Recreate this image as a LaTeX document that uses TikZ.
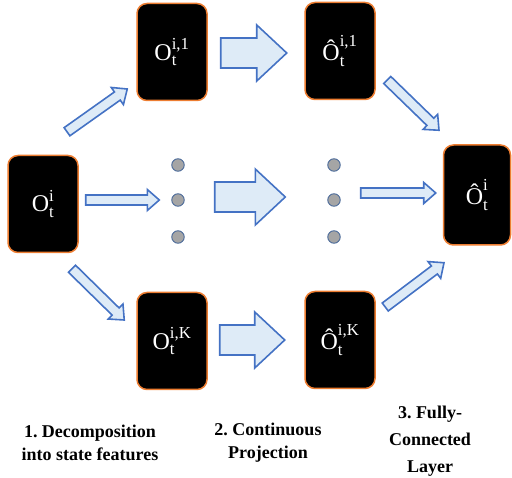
\documentclass[tikz,border=0pt]{standalone}
\usepackage{fontspec}
\usepackage{amsmath}
\setmainfont{Liberation Serif}
\usetikzlibrary{calc}

\definecolor{boxorange}{HTML}{ED7D31}
\definecolor{arrowblue}{HTML}{4472C4}
\definecolor{arrowfill}{HTML}{DEEBF7}
\definecolor{dotgray}{HTML}{A5A5A5}
\definecolor{dotline}{HTML}{4A6A9A}

\tikzset{
  featbox/.style={rectangle, rounded corners=10pt, fill=black, draw=boxorange, line width=1.5pt,
    minimum width=70pt, minimum height=97pt, text=white, font=\fontsize{24}{28}\selectfont},
  featdot/.style={circle, fill=dotgray, draw=dotline, line width=0.9pt, minimum size=12.5pt, inner sep=0pt},
  blockarrow/.style={draw=arrowblue, fill=arrowfill, line width=1.6pt, line join=miter},
  steplabel/.style={align=center, font=\fontsize{18}{23}\selectfont\bfseries}
}

% #1 tail, #2 tip, #3 half shaft, #4 half head, #5 head length
\newcommand{\fatarrow}[5]{%
  \draw[blockarrow] let \p1=#1, \p2=#2, \n1={atan2(\y2-\y1,\x2-\x1)}, \n2={veclen(\x2-\x1,\y2-\y1)} in
    ($(\p1)+(\n1+90:#3)$) -- ($(\p1)+(\n1:\n2-#5)+(\n1+90:#3)$) -- ($(\p1)+(\n1:\n2-#5)+(\n1+90:#4)$)
    -- (\p2) -- ($(\p1)+(\n1:\n2-#5)+(\n1-90:#4)$) -- ($(\p1)+(\n1:\n2-#5)+(\n1-90:#3)$)
    -- ($(\p1)+(\n1-90:#3)$) -- cycle;
}

\begin{document}
\frenchspacing
\begin{tikzpicture}[x=1pt, y=1pt]
      \useasboundingbox (0,0) rectangle (512,-478);
      \node (o) at (43,-204) [featbox] {$\text{O}_{\text{t}}^{\text{i}}$};
      \node (o1) at (172,-52) [featbox] {$\text{O}_{\text{t}}^{\text{i,1}}$};
      \node (oK) at (172,-341) [featbox] {$\text{O}_{\text{t}}^{\text{i,K}}$};
      \node (h1) at (340,-51) [featbox] {$\text{Ô}_{\text{t}}^{\text{i,1}}$};
      \node (hK) at (340,-340) [featbox] {$\text{Ô}_{\text{t}}^{\text{i,K}}$};
      \node (h) at (477,-195) [featbox, minimum width=67pt, minimum height=100pt] {$\text{Ô}_{\text{t}}^{\text{i}}$};
      \foreach \name/\x/\y in {d1/178/165, d2/178/200, d3/178/237, d4/334/165, d5/334/200, d6/334/237}
        \node (\name) at (\x,-\y) [featdot] {};

      % step 1: decomposition
      \fatarrow{([shift={(24,23)}]o.north)}{([shift={(-9,-37)}]o1.west)}{5}{10.5}{12}
      \fatarrow{([shift={(7,4)}]o.east)}{([shift={(-12,0)}]d2.west)}{5}{10.5}{12}
      \fatarrow{([shift={(29,-15.5)}]o.south)}{([shift={(-12,21)}]oK.west)}{5}{10.5}{12}

      % step 2: projection
      \fatarrow{([shift={(13,-1)}]o1.east)}{([shift={(-17.5,-2)}]h1.west)}{15}{28}{30}
      \fatarrow{([shift={(30,3)}]d2.east)}{([shift={(-42,3)}]d5.west)}{15}{28}{30}
      \fatarrow{([shift={(12,1)}]oK.east)}{([shift={(-19.5,0)}]hK.west)}{15}{28}{30}

      % step 3: fully-connected
      \fatarrow{([shift={(11.5,-29)}]h1.east)}{([shift={(-38,14)}]h.north)}{5}{10.5}{12}
      \fatarrow{([shift={(20,7)}]d5.east)}{([shift={(-7,2)}]h.west)}{5}{10.5}{12}
      \fatarrow{([shift={(9.5,33)}]hK.east)}{([shift={(-33,-17)}]h.south)}{5}{10.5}{12}

      \node (lab1) at (90,-443) [steplabel] {1. Decomposition\\into state features};
      \node (lab2) at (268,-443) [steplabel] {2. Continuous\\Projection};
      \node (lab3) at (430,-441) [steplabel, font=\fontsize{18}{27}\selectfont\bfseries] {3. Fully-\\Connected\\Layer};
\end{tikzpicture}
\end{document}
